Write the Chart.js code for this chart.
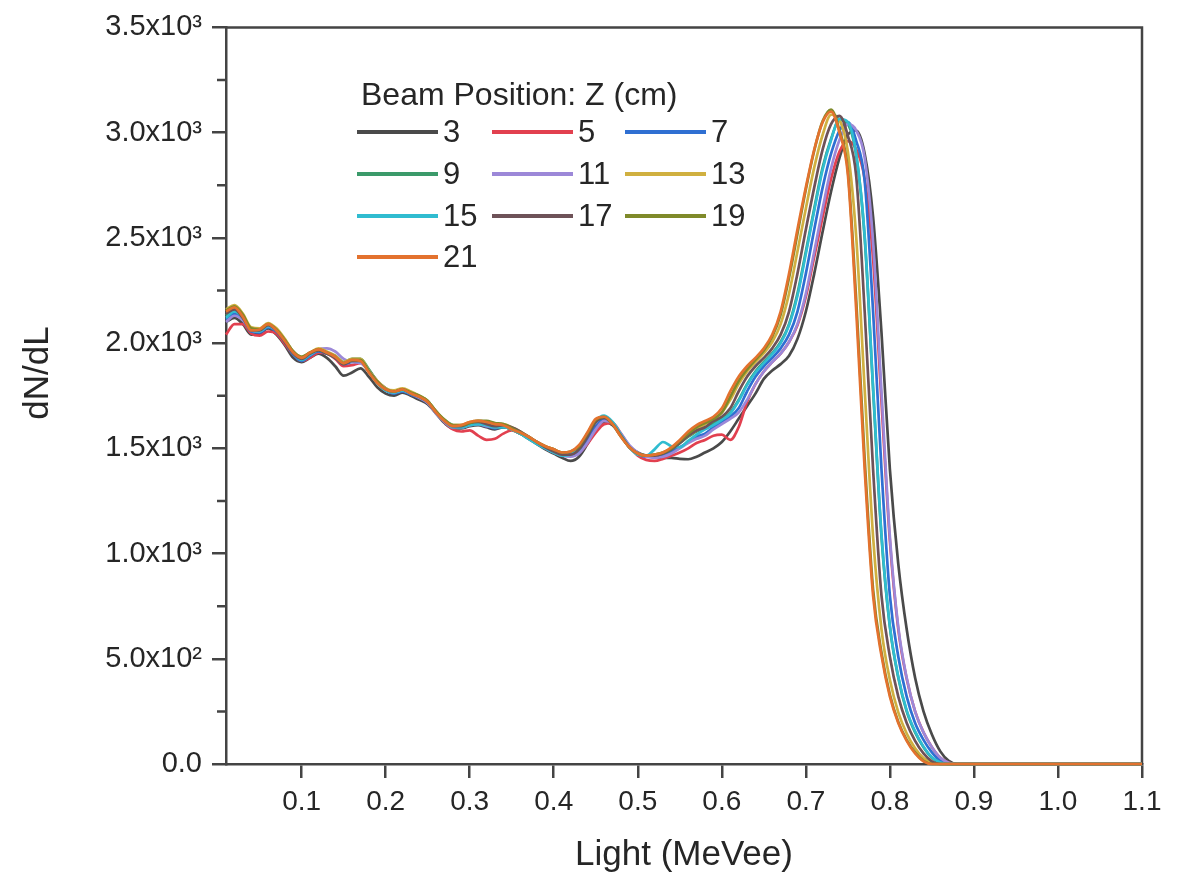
<!DOCTYPE html>
<html>
<head>
<meta charset="utf-8">
<script src="https://cdn.jsdelivr.net/npm/chart.js@4.4.0/dist/chart.umd.min.js"></script>
<style>
  html, body { margin: 0; padding: 0; background: #fff; }
  #wrap { width: 1186px; height: 880px; }
</style>
</head>
<body>
<div id="wrap"><canvas id="lightChart" width="1186" height="880"></canvas></div>
<script>
// light output (MeVee), shared by every beam position
var lightValues = [
  0.01, 0.02, 0.03, 0.04, 0.05, 0.06, 0.07, 0.08, 0.09, 0.10,
  0.11, 0.12, 0.13, 0.14, 0.15, 0.16, 0.17, 0.18, 0.19, 0.20,
  0.21, 0.22, 0.23, 0.24, 0.25, 0.26, 0.27, 0.28, 0.29, 0.30,
  0.31, 0.32, 0.33, 0.34, 0.35, 0.36, 0.37, 0.38, 0.39, 0.40,
  0.41, 0.42, 0.43, 0.44, 0.45, 0.46, 0.47, 0.48, 0.49, 0.50,
  0.51, 0.52, 0.53, 0.54, 0.55, 0.56, 0.57, 0.58, 0.59, 0.60,
  0.61, 0.62, 0.63, 0.64, 0.65, 0.66, 0.67, 0.68, 0.69, 0.70,
  0.71, 0.72, 0.73, 0.74, 0.75, 0.76, 0.77, 0.78, 0.79, 0.80,
  0.81, 0.82, 0.83, 0.84, 0.85, 0.86, 0.87, 0.88, 0.89, 1.10
];

var beamPositions = ["3", "5", "7", "9", "11", "13", "15", "17", "19", "21"];
var lineColors = ["#4a4a4a", "#e2404f", "#2f6fd2", "#3b9a6a", "#9c88d8",
                  "#d0b040", "#30bcd0", "#6e5258", "#7f8a2a", "#e3722e"];

var dndlZ3 = [
  2100, 2120, 2090, 2040, 2045, 2070, 2040, 1990, 1930, 1910,
  1930, 1950, 1930, 1890, 1845, 1860, 1880, 1840, 1790, 1760,
  1750, 1765, 1750, 1730, 1710, 1665, 1620, 1595, 1595, 1605,
  1610, 1600, 1590, 1600, 1590, 1570, 1545, 1520, 1495, 1475,
  1455, 1440, 1460, 1520, 1590, 1625, 1610, 1560, 1510, 1480,
  1465, 1460, 1455, 1455, 1450, 1448, 1460, 1480, 1500, 1530,
  1580, 1640, 1700, 1760, 1830, 1870, 1900, 1940, 2020, 2150,
  2330, 2530, 2720, 2880, 2990, 3010, 2900, 2600, 2050, 1400,
  950, 640, 410, 250, 140, 60, 15, 0, 0, 0
];
var dndlZ5 = [
  2040, 2090, 2090, 2045, 2035, 2055, 2045, 1995, 1945, 1915,
  1930, 1955, 1950, 1925, 1890, 1895, 1905, 1870, 1820, 1785,
  1765, 1770, 1765, 1745, 1720, 1675, 1625, 1590, 1580, 1585,
  1560, 1540, 1545, 1570, 1585, 1570, 1550, 1525, 1505, 1490,
  1475, 1470, 1480, 1520, 1575, 1615, 1620, 1570, 1510, 1465,
  1445, 1440, 1450, 1465, 1480, 1500, 1525, 1540, 1560, 1565,
  1540, 1600, 1720, 1805, 1865, 1910, 1950, 2005, 2085, 2220,
  2410, 2600, 2780, 2910, 2960, 2920, 2780, 2400, 1720, 1060,
  640, 405, 250, 150, 80, 30, 6, 0, 0, 0
];
var dndlZ7 = [
  2110, 2140, 2110, 2055, 2050, 2075, 2055, 2005, 1945, 1915,
  1940, 1960, 1950, 1930, 1900, 1910, 1915, 1870, 1815, 1775,
  1760, 1770, 1755, 1740, 1715, 1670, 1630, 1600, 1600, 1610,
  1615, 1605, 1595, 1600, 1595, 1575, 1550, 1525, 1505, 1485,
  1470, 1465, 1485, 1540, 1605, 1640, 1620, 1565, 1510, 1475,
  1460, 1460, 1470, 1485, 1505, 1530, 1555, 1570, 1600, 1625,
  1650, 1690, 1770, 1840, 1890, 1930, 1975, 2040, 2150, 2330,
  2540, 2740, 2900, 3010, 3050, 2960, 2770, 2150, 1400, 800,
  510, 320, 195, 115, 55, 15, 2, 0, 0, 0
];
var dndlZ9 = [
  2130, 2160, 2125, 2065, 2060, 2085, 2065, 2015, 1960, 1930,
  1950, 1965, 1955, 1940, 1910, 1925, 1925, 1875, 1820, 1785,
  1770, 1780, 1765, 1750, 1725, 1675, 1635, 1610, 1605, 1615,
  1620, 1615, 1600, 1600, 1590, 1570, 1550, 1525, 1505, 1490,
  1475, 1475, 1500, 1560, 1630, 1650, 1620, 1560, 1505, 1475,
  1465, 1465, 1475, 1495, 1525, 1555, 1580, 1595, 1620, 1640,
  1670, 1730, 1805, 1865, 1910, 1952, 2005, 2090, 2235, 2435,
  2640, 2835, 2970, 3060, 3040, 2890, 2500, 1780, 1080, 650,
  410, 250, 150, 80, 30, 6, 0, 0, 0, 0
];
var dndlZ11 = [
  2100, 2130, 2110, 2060, 2055, 2080, 2060, 2010, 1955, 1925,
  1945, 1970, 1975, 1960, 1925, 1910, 1905, 1865, 1815, 1780,
  1765, 1775, 1760, 1740, 1715, 1665, 1625, 1600, 1600, 1610,
  1615, 1605, 1600, 1605, 1595, 1575, 1550, 1525, 1500, 1480,
  1465, 1460, 1475, 1525, 1590, 1630, 1620, 1570, 1515, 1480,
  1460, 1455, 1460, 1475, 1500, 1525, 1545, 1560, 1590, 1615,
  1640, 1670, 1730, 1805, 1865, 1910, 1950, 2005, 2090, 2235,
  2435, 2640, 2830, 2965, 3040, 3010, 2880, 2480, 1770, 1080,
  650, 410, 250, 150, 80, 30, 6, 0, 0, 0
];
var dndlZ13 = [
  2160, 2180, 2140, 2075, 2070, 2095, 2070, 2020, 1960, 1935,
  1955, 1975, 1960, 1940, 1910, 1925, 1925, 1870, 1820, 1785,
  1775, 1785, 1770, 1750, 1725, 1675, 1635, 1610, 1610, 1625,
  1630, 1625, 1615, 1615, 1600, 1580, 1555, 1530, 1510, 1495,
  1480, 1480, 1505, 1565, 1630, 1650, 1620, 1560, 1505, 1475,
  1465, 1470, 1480, 1500, 1530, 1560, 1585, 1615, 1640, 1670,
  1730, 1805, 1865, 1910, 1952, 2005, 2090, 2235, 2435, 2640,
  2835, 2990, 3085, 3060, 2910, 2500, 1780, 1080, 640, 400,
  245, 145, 75, 28, 5, 0, 0, 0, 0, 0
];
var dndlZ15 = [
  2120, 2150, 2120, 2060, 2055, 2080, 2060, 2010, 1950, 1920,
  1945, 1965, 1955, 1935, 1905, 1915, 1915, 1865, 1810, 1775,
  1765, 1775, 1760, 1745, 1720, 1670, 1630, 1600, 1600, 1610,
  1615, 1610, 1600, 1600, 1590, 1570, 1545, 1520, 1500, 1480,
  1465, 1470, 1495, 1560, 1630, 1655, 1625, 1565, 1505, 1470,
  1465, 1495, 1530, 1510, 1505, 1535, 1565, 1590, 1610, 1635,
  1665, 1725, 1800, 1860, 1905, 1948, 2000, 2085, 2225, 2425,
  2630, 2825, 2965, 3065, 3050, 2895, 2510, 1790, 1090, 655,
  415, 255, 155, 82, 32, 7, 0, 0, 0, 0
];
var dndlZ17 = [
  2140, 2160, 2120, 2060, 2060, 2085, 2060, 2005, 1950, 1925,
  1950, 1965, 1950, 1930, 1900, 1915, 1915, 1865, 1815, 1780,
  1770, 1780, 1760, 1745, 1720, 1670, 1630, 1605, 1605, 1620,
  1625, 1615, 1605, 1610, 1600, 1580, 1555, 1530, 1505, 1485,
  1470, 1470, 1495, 1555, 1625, 1645, 1615, 1560, 1505, 1475,
  1465, 1465, 1475, 1495, 1525, 1560, 1585, 1600, 1630, 1650,
  1690, 1770, 1840, 1890, 1930, 1975, 2040, 2150, 2330, 2540,
  2740, 2920, 3040, 3080, 2985, 2790, 2150, 1400, 800, 510,
  320, 195, 110, 50, 12, 0, 0, 0, 0, 0
];
var dndlZ19 = [
  2155, 2175, 2135, 2070, 2065, 2090, 2065, 2015, 1960, 1935,
  1955, 1970, 1955, 1935, 1905, 1920, 1920, 1865, 1815, 1780,
  1770, 1780, 1765, 1750, 1725, 1675, 1635, 1610, 1610, 1620,
  1630, 1630, 1620, 1615, 1595, 1575, 1555, 1530, 1510, 1495,
  1480, 1485, 1510, 1570, 1635, 1650, 1615, 1555, 1505, 1475,
  1465, 1470, 1480, 1500, 1535, 1570, 1600, 1620, 1640, 1670,
  1745, 1820, 1875, 1920, 1965, 2030, 2135, 2310, 2520, 2730,
  2915, 3055, 3110, 3010, 2820, 2200, 1450, 830, 530, 330,
  200, 115, 55, 15, 0, 0, 0, 0, 0, 0
];
var dndlZ21 = [
  2150, 2170, 2125, 2060, 2065, 2090, 2060, 2010, 1955, 1930,
  1955, 1970, 1955, 1935, 1905, 1920, 1915, 1860, 1810, 1780,
  1770, 1780, 1760, 1745, 1720, 1670, 1630, 1605, 1610, 1625,
  1630, 1625, 1615, 1610, 1590, 1575, 1555, 1530, 1510, 1495,
  1480, 1485, 1515, 1575, 1640, 1650, 1615, 1555, 1505, 1475,
  1465, 1470, 1480, 1505, 1540, 1580, 1610, 1630, 1650, 1690,
  1770, 1840, 1890, 1930, 1975, 2040, 2150, 2330, 2540, 2740,
  2920, 3050, 3100, 3000, 2800, 2150, 1400, 800, 515, 320,
  195, 110, 50, 12, 0, 0, 0, 0, 0, 0
];

var allSeries = [dndlZ3, dndlZ5, dndlZ7, dndlZ9, dndlZ11, dndlZ13, dndlZ15, dndlZ17, dndlZ19, dndlZ21];

var lightTicks = [0.1, 0.2, 0.3, 0.4, 0.5, 0.6, 0.7, 0.8, 0.9, 1.0, 1.1];
var countTicks = [0, 500, 1000, 1500, 2000, 2500, 3000, 3500];
var countTickLabels = ["0.0", "5.0x10\u00B2", "1.0x10\u00B3", "1.5x10\u00B3", "2.0x10\u00B3",
                       "2.5x10\u00B3", "3.0x10\u00B3", "3.5x10\u00B3"];
var countMinorTicks = [250, 750, 1250, 1750, 2250, 2750, 3250];

var axisColor = "#444";
var textColor = "#262626";
var fontFamily = "'Liberation Sans', Arial, Helvetica, sans-serif";

// top/right frame, short minor ticks on the y axis, y title
var framePlugin = {
  id: "frame",
  beforeDatasetsDraw: function(chart) {
    var c = chart.ctx, a = chart.chartArea, y = chart.scales.y;
    c.save();
    c.strokeStyle = axisColor;
    c.lineWidth = 2.5;
    c.beginPath();
    c.moveTo(a.left, a.top);
    c.lineTo(a.right, a.top);
    c.lineTo(a.right, a.bottom);
    c.stroke();
    c.beginPath();
    for (var i = 0; i < countMinorTicks.length; i++) {
      var py = y.getPixelForValue(countMinorTicks[i]);
      c.moveTo(a.left - 9, py);
      c.lineTo(a.left, py);
    }
    c.stroke();

    c.translate(38, 373);
    c.rotate(-Math.PI / 2);
    c.fillStyle = textColor;
    c.font = "35px " + fontFamily;
    c.textAlign = "center";
    c.textBaseline = "middle";
    c.fillText("dN/dL", 0, 0);
    c.restore();
  }
};

// legend block inside the plot, three columns
var legendPlugin = {
  id: "beamLegend",
  afterDatasetsDraw: function(chart) {
    var c = chart.ctx;
    var colX = [357, 492, 625];
    var rowY = [132, 174, 216, 257];
    c.save();
    c.fillStyle = textColor;
    c.textBaseline = "middle";
    c.font = "32px " + fontFamily;
    c.fillText("Beam Position: Z (cm)", 361, 96);
    c.font = "31px " + fontFamily;
    chart.data.datasets.forEach(function(ds, i) {
      var x = colX[i % 3], y = rowY[Math.floor(i / 3)];
      c.strokeStyle = ds.borderColor;
      c.lineWidth = 4;
      c.beginPath();
      c.moveTo(x, y);
      c.lineTo(x + 81, y);
      c.stroke();
      c.fillStyle = textColor;
      c.fillText(ds.label, x + 86, y + 1);
    });
    c.restore();
  }
};

var datasets = [];
for (var i = 0; i < allSeries.length; i++) {
  var pts = [];
  for (var j = 0; j < lightValues.length; j++) {
    pts.push({ x: lightValues[j], y: allSeries[i][j] });
  }
  datasets.push({
    label: beamPositions[i],
    data: pts,
    borderColor: lineColors[i],
    backgroundColor: lineColors[i],
    borderWidth: 2.7,
    pointRadius: 0,
    fill: false,
    clip: 5,
    order: allSeries.length - i,
    cubicInterpolationMode: "monotone"
  });
}

var ctx = document.getElementById("lightChart").getContext("2d");
var lightChart = new Chart(ctx, {
  type: "line",
  data: { datasets: datasets },
  options: {
    responsive: false,
    animation: false,
    layout: { padding: { left: 0, right: 44, top: 23, bottom: 0 } },
    plugins: {
      legend: { display: false },
      tooltip: { enabled: false }
    },
    scales: {
      x: {
        type: "linear",
        min: 0.01,
        max: 1.1,
        afterBuildTicks: function(scale) {
          scale.ticks = lightTicks.map(function(v) { return { value: v }; });
        },
        afterFit: function(scale) { scale.height = 116; },
        ticks: {
          autoSkip: false,
          maxRotation: 0,
          padding: 7,
          color: textColor,
          font: { family: fontFamily, size: 28 },
          callback: function(value) { return Number(value).toFixed(1); }
        },
        grid: { drawOnChartArea: false, drawTicks: true, tickLength: 14, color: axisColor, lineWidth: 2.5 },
        border: { display: true, color: axisColor, width: 2.5 },
        title: {
          display: true,
          text: "Light (MeVee)",
          color: textColor,
          font: { family: fontFamily, size: 35 },
          padding: { top: 0, bottom: 4 }
        }
      },
      y: {
        type: "linear",
        min: 0,
        max: 3500,
        afterBuildTicks: function(scale) {
          scale.ticks = countTicks.map(function(v) { return { value: v }; });
        },
        afterFit: function(scale) { scale.width = 226; },
        ticks: {
          padding: 10,
          color: textColor,
          font: { family: fontFamily, size: 29 },
          callback: function(value) {
            var k = countTicks.indexOf(value);
            return k >= 0 ? countTickLabels[k] : "";
          }
        },
        grid: { drawOnChartArea: false, drawTicks: true, tickLength: 14, color: axisColor, lineWidth: 2.5 },
        border: { display: true, color: axisColor, width: 2.5 },
        title: { display: false }
      }
    }
  },
  plugins: [framePlugin, legendPlugin]
});
</script>
</body>
</html>
